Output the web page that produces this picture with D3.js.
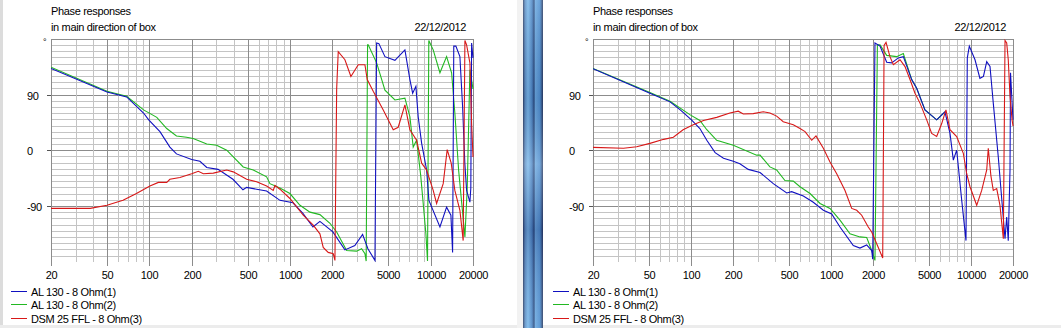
<!DOCTYPE html>
<html><head><meta charset="utf-8">
<script src="https://cdn.jsdelivr.net/npm/d3@7"></script>
<style>
html,body{margin:0;padding:0;background:#fff;}
svg{display:block;}
text{font-family:"Liberation Sans",Arial,sans-serif;font-size:11px;fill:#000;letter-spacing:-0.35px;}
</style></head>
<body><svg id="c" width="1061" height="328"></svg>
<script>
// ---------- data ----------
const titleLines = ["Phase responses", "in main direction of box"];
const dateText = "22/12/2012";
const seriesNames = ["AL 130 - 8 Ohm(1)", "AL 130 - 8 Ohm(2)", "DSM 25 FFL - 8 Ohm(3)"];
const seriesColors = ["#1010c0", "#22b822", "#d81818"];
const xTickLabels = [20, 50, 100, 200, 500, 1000, 2000, 5000, 10000, 20000];
const yTickLabels = [90, 0, -90];

// left chart  [frequency Hz, phase deg]
const leftBlue = [[20,133],[50,95],[69,87],[91,61],[99,50],[119,31],[140,6],[156,-5],[200,-14],[229,-17],[256,-27],[308,-30],[393,-46],[463,-63],[492,-59],[579,-62],[682,-65],[849,-80],[1050,-84],[1236,-101],[1456,-123],[1632,-114],[2018,-131],[2458,-160],[2891,-153],[3282,-135],[3580,-158],[4018,-177],[4130,174],[4285,173],[4732,152],[5572,146],[6562,163],[7120,115],[7446,93],[7855,104],[8155,55],[8630,12],[9360,-31],[9720,-80],[11640,-123],[12980,-91],[13930,-104],[14320,-164],[14600,169],[15110,169],[16140,152],[16870,71],[17500,-20],[18010,-64],[19010,-83],[19300,-60],[19550,174],[20000,150]];
const leftGreen = [[20,135],[50,96],[69,88],[91,66],[113,54],[133,36],[156,24],[184,22],[205,20],[256,11],[301,9],[355,1],[465,-26],[548,-31],[682,-42],[720,-53],[848,-60],[999,-69],[1178,-88],[1387,-99],[1632,-103],[1924,-117],[2147,-131],[2528,-161],[2976,-162],[3230,-158],[3410,-166],[3480,-178],[3560,171],[3598,171],[4130,142],[4732,98],[5572,82],[6562,85],[7120,55],[7516,6],[7945,17],[8500,-40],[9250,-134],[9500,-178],[9700,178],[10425,163],[11640,126],[12980,152],[14090,126],[14860,61],[15800,-31],[17520,-139],[18200,-60],[19010,131],[20000,100]];
const leftRed = [[20,-93],[38,-93],[50,-88],[65,-80],[81,-69],[101,-57],[116,-51],[133,-51],[140,-46],[165,-43],[200,-37],[223,-33],[242,-37],[285,-36],[355,-31],[395,-34],[492,-46],[579,-50],[682,-57],[760,-64],[782,-56],[848,-62],[999,-77],[1242,-104],[1463,-120],[1632,-134],[1723,-156],[1870,-164],[2030,-166],[2087,-177],[2147,100],[2203,160],[2458,147],[2710,120],[3056,139],[3410,139],[3540,115],[3906,96],[4602,66],[5420,34],[5880,38],[6562,74],[7120,34],[7945,17],[8630,-20],[9360,-31],[10425,-64],[11020,-85],[12280,-53],[13110,2],[14000,-20],[14860,-64],[16140,-96],[17030,-145],[17520,178],[18010,171],[19010,142],[19550,44],[20000,-10]];

// right chart
const rightBlue = [[20,132.5],[51,93],[71,79],[84,66],[101,50],[116,36],[130,17],[149,-3],[171,-12],[201,-17],[224,-21],[257,-30],[312,-35],[388,-53],[484,-68],[525,-66],[636,-73],[749,-83],[884,-96],[1014,-102],[1162,-123],[1446,-153],[1614,-157],[1803,-152],[1958,-161],[1990,-175],[2066,174],[2244,169],[2506,143],[2720,142],[3032,150],[3293,152],[3778,115],[4102,101],[4700,66],[5700,50],[6532,63],[7096,28],[7496,-15],[7922,1],[8605,-80],[9232,-145],[9432,150],[9750,169],[10706,147],[11610,117],[12300,120],[12980,144],[13700,136],[14460,77],[15700,-10],[17540,-142],[18030,-107],[18500,-145],[19040,-31],[19200,126],[20000,50]];
const rightGreen = [[20,133],[51,94],[71,80],[99,58],[116,49],[130,34],[153,17],[201,9],[295,-7],[312,-7],[367,-26],[410,-31],[470,-48],[539,-49],[602,-58],[710,-69],[837,-85],[986,-93],[1162,-112],[1370,-134],[1614,-139],[1803,-140],[1958,-161],[2066,-177],[2150,171],[2244,171],[2506,154],[2952,152],[3293,157],[3778,115],[4102,101],[4700,66],[5700,50],[6532,63]];
const rightRed = [[20,5.5],[33,4],[41,6.5],[51,12],[64,18.5],[75,22],[88,34],[104,42],[123,49],[153,54],[190,61],[218,64],[237,59.5],[279,60],[329,63],[367,61],[410,56],[457,47],[539,42],[602,36],[654,31],[730,17],[783,24],[884,4],[986,-18],[1101,-37],[1262,-64],[1409,-93],[1530,-96],[1660,-104],[1850,-123],[1958,-131],[2182,-156],[2346,-173],[2400,170],[2478,175],[2644,152],[2794,139],[3120,147],[3386,136],[3675,115],[3990,93],[4332,77],[4838,50],[5250,28],[5700,23],[6192,44],[6640,66],[7096,34],[7922,23],[8832,-4],[9340,-37],[9860,-58],[11010,-88],[11950,-64],[12980,-31],[13320,4],[13900,-40],[14460,-64],[15300,-61],[16140,-88],[17060,-142],[17540,178],[18030,174],[18500,147],[19040,88],[19700,50],[20000,40]];

// ---------- drawing ----------
const svg = d3.select("#c");

// window chrome
svg.append("rect").attr("x",0).attr("y",0).attr("width",3).attr("height",328).attr("fill","#dcdcdc");
svg.append("rect").attr("x",0).attr("y",325).attr("width",1061).attr("height",3).attr("fill","#ececec");
svg.append("rect").attr("x",517).attr("y",0).attr("width",6).attr("height",328).attr("fill","#f2f2f2");
const defs = svg.append("defs");
const g1 = defs.append("linearGradient").attr("id","frame").attr("x1","0").attr("x2","1").attr("y1","0").attr("y2","0");
[[0,"#2b3f66"],[0.1,"#5d8fc4"],[0.25,"#79b8ea"],[0.45,"#4d86c4"],[0.55,"#2c4d80"],[0.62,"#6aa8df"],[0.85,"#4f8fd0"],[1,"#2a3a60"]]
  .forEach(([o,c])=>g1.append("stop").attr("offset",o).attr("stop-color",c));
svg.append("rect").attr("x",523).attr("y",0).attr("width",20).attr("height",328).attr("fill","url(#frame)");
const g2 = defs.append("linearGradient").attr("id","shade").attr("x1","0").attr("x2","0").attr("y1","0").attr("y2","1");
[[0,"rgba(255,255,255,0.15)"],[0.3,"rgba(0,0,40,0.1)"],[0.5,"rgba(255,255,255,0.2)"],[0.7,"rgba(0,0,60,0.2)"],[1,"rgba(255,255,255,0.1)"]]
  .forEach(([o,c])=>g2.append("stop").attr("offset",o).attr("stop-color",c));
svg.append("rect").attr("x",523).attr("y",0).attr("width",20).attr("height",328).attr("fill","url(#shade)");

const panels = [
  {x0:51, x1:473, blue:leftBlue, green:leftGreen, red:leftRed, id:"L"},
  {x0:593, x1:1013, blue:rightBlue, green:rightGreen, red:rightRed, id:"R"}
];

const yTop = 39.3, yBot = 262.3;
panels.forEach(p => {
  const g = svg.append("g");
  const x = d3.scaleLog().domain([20,20000]).range([p.x0, p.x1]);
  const y = d3.scaleLinear().domain([-180,180]).range([yBot, yTop]);
  const fx = v => Math.round(x(v)) + 0.5;
  const fy = v => Math.floor(y(v)) + 0.5;

  const hVals = d3.range(-170, 181, 10);
  g.selectAll(".h").data(hVals).enter().append("line")
    .attr("x1", p.x0).attr("x2", fx(20000)+0.5)
    .attr("y1", d=>fy(d)).attr("y2", d=>fy(d))
    .attr("stroke", d => d % 90 === 0 ? "#8c8c8c" : "#c4c4c4")
    .attr("shape-rendering","crispEdges");
  const vVals = [];
  [10,100,1000].forEach(dec => { for (let k=1;k<=9;k++){ const v=k*dec; if (v>=20 && v<=20000) vVals.push(v);} });
  vVals.push(10000, 20000);
  const vSet = Array.from(new Set(vVals)).sort((a,b)=>a-b);
  g.selectAll(".v").data(vSet).enter().append("line")
    .attr("x1", d=>fx(d)).attr("x2", d=>fx(d))
    .attr("y1", fy(180)).attr("y2", d => xTickLabels.includes(d) ? 266 : 262)
    .attr("stroke", d => xTickLabels.includes(d) ? "#8c8c8c" : "#c4c4c4")
    .attr("shape-rendering","crispEdges");

  g.selectAll(".yt").data(yTickLabels).enter().append("line")
    .attr("x1", p.x0-4).attr("x2", p.x0).attr("y1", d=>fy(d)).attr("y2", d=>fy(d))
    .attr("stroke","#555").attr("shape-rendering","crispEdges");
  g.selectAll(".yl").data(yTickLabels).enter().append("text")
    .attr("x", p.x0-24).attr("y", d=>fy(d)+4).text(d=>d);
  g.append("text").attr("x", p.x0-8).attr("y", yTop+6).style("font-size","9px").text("°");

  g.selectAll(".xl").data(xTickLabels).enter().append("text")
    .attr("x", d=>fx(d)).attr("y", 278.5).attr("text-anchor","middle").text(d=>d);

  g.append("text").attr("x", p.x0).attr("y", 15).text(titleLines[0]);
  g.append("text").attr("x", p.x0).attr("y", 31).text(titleLines[1]);
  g.append("text").attr("x", p.x1-7).attr("y", 31).attr("text-anchor","end").text(dateText);

  defs.append("clipPath").attr("id","clip"+p.id).append("rect")
    .attr("x", p.x0).attr("y", yTop-1).attr("width", p.x1-p.x0+1).attr("height", yBot-yTop+1);
  const line = d3.line().x(d=>x(d[0])).y(d=>y(d[1]));
  const cg = g.append("g").attr("clip-path","url(#clip"+p.id+")");
  [[p.green,1],[p.blue,0],[p.red,2]].forEach(([data,i]) => {
    cg.append("path").attr("d", line(data)).attr("fill","none")
      .attr("stroke", seriesColors[i]).attr("stroke-width",1.1);
  });

  seriesNames.forEach((n,i) => {
    const ly = 291.5 + i*13.3;
    g.append("line").attr("x1", p.x0-40).attr("x2", p.x0-24).attr("y1", Math.floor(ly)+0.5).attr("y2", Math.floor(ly)+0.5)
      .attr("stroke", seriesColors[i]).attr("shape-rendering","crispEdges");
    g.append("text").attr("x", p.x0-20).attr("y", ly+4.5).text(n);
  });
});
</script></body></html>
